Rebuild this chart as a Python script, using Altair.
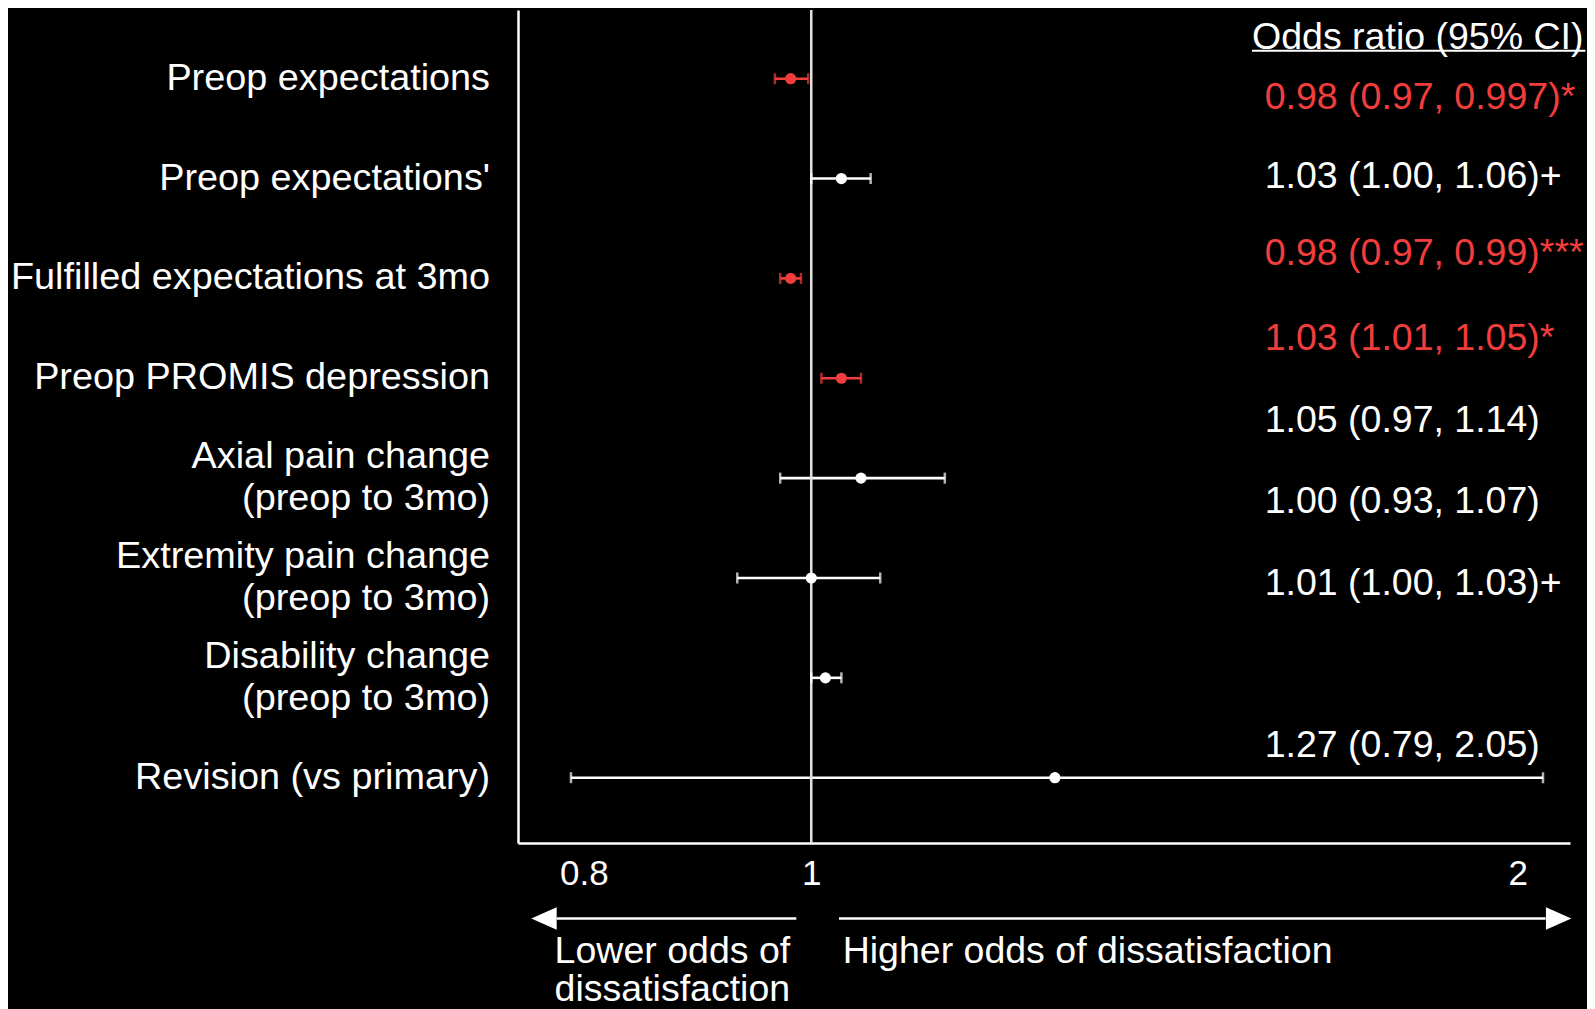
import altair as alt
import pandas as pd

# ---------------- data ----------------
ROW_LABELS = [
    "Preop expectations",
    "Preop expectations'",
    "Fulfilled expectations at 3mo",
    "Preop PROMIS depression",
    "Axial pain change\n(preop to 3mo)",
    "Extremity pain change\n(preop to 3mo)",
    "Disability change\n(preop to 3mo)",
    "Revision (vs primary)",
]
ODDS_RATIO = [0.98, 1.03, 0.98, 1.03, 1.05, 1.00, 1.014, 1.27]
CI_LOWER = [0.965, 1.00, 0.97, 1.01, 0.97, 0.93, 1.00, 0.79]
CI_UPPER = [0.997, 1.06, 0.99, 1.05, 1.14, 1.07, 1.03, 2.05]
SIGNIFICANT = [True, False, True, True, False, False, False, False]

CI_TEXTS = [
    "0.98 (0.97, 0.997)*",
    "1.03 (1.00, 1.06)+",
    "0.98 (0.97, 0.99)***",
    "1.03 (1.01, 1.05)*",
    "1.05 (0.97, 1.14)",
    "1.00 (0.93, 1.07)",
    "1.01 (1.00, 1.03)+",
    "1.27 (0.79, 2.05)",
]
CI_TEXT_RED = [True, False, True, True, False, False, False, False]
X_TICKS = [0.8, 1, 2]
HEADER = "Odds ratio (95% CI)"
LOWER_NOTE = "Lower odds of\ndissatisfaction"
HIGHER_NOTE = "Higher odds of dissatisfaction"

# ---------------- layout (not data) ----------------
CI_TEXT_ROW = [1.193, 1.984, 2.755, 3.602, 4.423, 5.239, 6.057, 7.682]
CI_COL_X = 1.5601
HEADER_X, HEADER_ROW = 1.541, 0.593
UNDERLINE_X2, UNDERLINE_ROW = 2.137, 0.720
X_DOMAIN = [0.75, 2.105]
Y_DOMAIN = [0.312, 8.654]
LABEL_LINE_HEIGHT = 42
ROW_PX = 99.86  # pixels per row unit (833 px / domain span)

FONT = "Liberation Sans"
RED = "#f23d3d"
WHITE = "#ffffff"
FS = 37.5
FS_LABEL = 37.8

df = pd.DataFrame({
    "row": list(range(1, len(ROW_LABELS) + 1)),
    "label": ROW_LABELS,
    "or": ODDS_RATIO,
    "lo": CI_LOWER,
    "hi": CI_UPPER,
    "color": [RED if s else WHITE for s in SIGNIFICANT],
})
# shift multi-line labels up so the block is centred on its row
n_lines = df["label"].str.count("\n")
df["label_row"] = df["row"] - n_lines * (LABEL_LINE_HEIGHT / 2) / ROW_PX

ci_df = pd.DataFrame({
    "text_row": CI_TEXT_ROW,
    "text": CI_TEXTS,
    "color": [RED if s else WHITE for s in CI_TEXT_RED],
})

XS = alt.Scale(type="log", domain=X_DOMAIN, nice=False, zero=False)
YS = alt.Scale(domain=Y_DOMAIN, reverse=True, nice=False, zero=False)

x_axis = alt.Axis(values=X_TICKS, format="~g", ticks=False, tickSize=0,
                  labelPadding=13, labelFontSize=35, labelColor=WHITE,
                  labelFont=FONT, domainColor=WHITE, domainWidth=2.5,
                  grid=False, title=None, labelFlush=False, labelOverlap=False)
y_axis = alt.Axis(labels=False, ticks=False, tickSize=0, domainColor=WHITE,
                  domainWidth=2.5, grid=False, title=None)


def X(field):
    return alt.X(field, scale=XS, axis=x_axis)


def Y(field):
    return alt.Y(field, scale=YS, axis=y_axis)


def XD(v):
    return alt.XDatum(v, scale=XS, axis=x_axis)


def YD(v):
    return alt.YDatum(v, scale=YS, axis=y_axis)


base = alt.Chart(df)

bars = base.mark_rule(strokeWidth=2.6).encode(
    x=X("lo:Q"), x2="hi:Q", y=Y("row:Q"),
    color=alt.Color("color:N", scale=None),
)

ref = alt.Chart(pd.DataFrame({"ref": [1]})).mark_rule(
    color="#e2e2e2", strokeWidth=2.5
).encode(x=X("ref:Q"))

cap_lo = base.mark_tick(orient="vertical", size=11, thickness=2.5).encode(
    x=X("lo:Q"), y=Y("row:Q"), color=alt.Color("color:N", scale=None),
)
cap_hi = base.mark_tick(orient="vertical", size=11, thickness=2.5).encode(
    x=X("hi:Q"), y=Y("row:Q"), color=alt.Color("color:N", scale=None),
)
points = base.mark_circle(size=125, opacity=1).encode(
    x=X("or:Q"), y=Y("row:Q"), color=alt.Color("color:N", scale=None),
)

row_labels = base.mark_text(
    align="right", baseline="middle", fontSize=FS_LABEL, font=FONT, color=WHITE,
    lineHeight=LABEL_LINE_HEIGHT, lineBreak="\n"
).encode(
    x=alt.value(-28),
    y=Y("label_row:Q"),
    text="label:N",
)

ci_text = alt.Chart(ci_df).mark_text(
    align="left", baseline="middle", fontSize=FS, font=FONT
).encode(
    x=XD(CI_COL_X),
    y=Y("text_row:Q"),
    text="text:N",
    color=alt.Color("color:N", scale=None),
)

one = pd.DataFrame({"k": [0]})
header = alt.Chart(one).mark_text(
    align="left", baseline="middle", fontSize=FS, font=FONT, color=WHITE
).encode(x=XD(HEADER_X), y=YD(HEADER_ROW), text=alt.value(HEADER))

underline = alt.Chart(one).mark_rule(color=WHITE, strokeWidth=2).encode(
    x=XD(HEADER_X), x2=alt.datum(UNDERLINE_X2), y=YD(UNDERLINE_ROW)
)

arrow_df = pd.DataFrame({
    "x1": [0.98549, 1.02755],
    "x2": [0.77895, 2.0553],
    "head": [0.76936, 2.0817],
    "shape": ["M-1,0L1,-0.88L1,0.88Z", "M1,0L-1,-0.88L-1,0.88Z"],
})
arrow_lines = alt.Chart(arrow_df).mark_rule(color=WHITE, strokeWidth=2.5).encode(
    x=X("x1:Q"), x2="x2:Q", y=alt.value(908.5)
)
arrow_heads = alt.Chart(arrow_df).mark_point(
    filled=True, opacity=1, color=WHITE, size=645
).encode(
    x=X("head:Q"), y=alt.value(908.5),
    shape=alt.Shape("shape:N", scale=None),
)

notes_df = pd.DataFrame({"x": [0.77743, 1.03128], "text": [LOWER_NOTE, HIGHER_NOTE]})
notes = alt.Chart(notes_df).mark_text(
    align="left", baseline="top", fontSize=FS, font=FONT, color=WHITE,
    lineHeight=38, lineBreak="\n"
).encode(x=X("x:Q"), y=alt.value(922.5), text="text:N")

chart = alt.layer(
    bars, ref, cap_lo, cap_hi, points, row_labels, ci_text,
    header, underline, arrow_lines, arrow_heads, notes,
).properties(
    width=1052,
    height=833,
    autosize=alt.AutoSizeParams(type="none"),
    padding={"left": 510, "top": 2, "right": 17, "bottom": 166},
    background="#000000",
).configure_view(stroke="transparent")

chart.save("out.html", embed_options={"renderer": "svg", "actions": False})
